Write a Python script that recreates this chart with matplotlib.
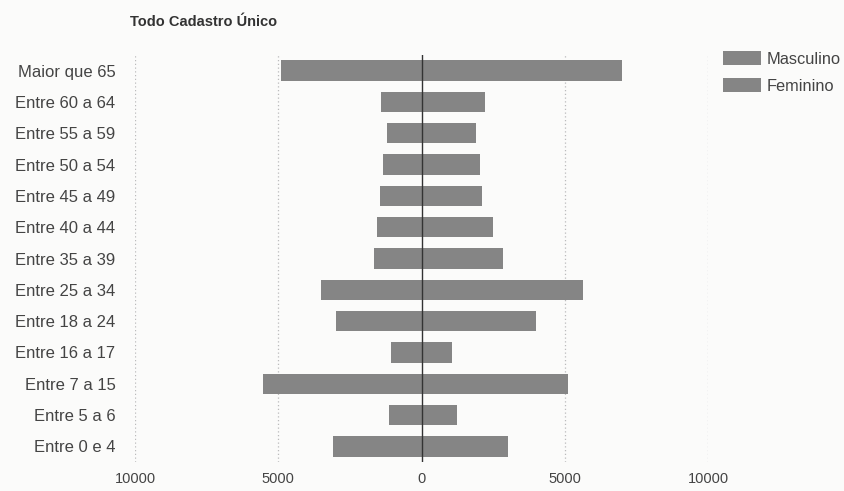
import numpy as np
import matplotlib.pyplot as plt
from matplotlib.ticker import FuncFormatter

faixas = ['Entre 0 e 4', 'Entre 5 a 6', 'Entre 7 a 15', 'Entre 16 a 17',
          'Entre 18 a 24', 'Entre 25 a 34', 'Entre 35 a 39', 'Entre 40 a 44',
          'Entre 45 a 49', 'Entre 50 a 54', 'Entre 55 a 59', 'Entre 60 a 64',
          'Maior que 65']
masculino = [3100, 1150, 5550, 1050, 3000, 3500, 1650, 1550, 1450, 1350, 1200, 1400, 4900]
feminino = [3000, 1250, 5100, 1050, 4000, 5650, 2850, 2500, 2100, 2050, 1900, 2200, 7000]
ticks = [-10000, -5000, 0, 5000, 10000]

cor = '#858585'
texto = '#444444'
plt.rcParams['font.family'] = ['Liberation Sans', 'DejaVu Sans']

fig = plt.figure(figsize=(8.44, 4.91), dpi=100)
fig.patch.set_facecolor('#fbfbfa')
ax = fig.add_axes([0.16, 0.059, 0.679, 0.829])
ax.set_facecolor('#fbfbfa')

y = np.arange(len(faixas))
ax.barh(y, -np.array(masculino), height=0.65, color=cor, label='Masculino')
ax.barh(y, feminino, height=0.65, color=cor, label='Feminino')

ax.set_xlim(-10000, 10000)
ax.set_ylim(-0.5, len(faixas) - 0.5)
ax.set_yticks(y)
ax.set_yticklabels(faixas, fontsize=12, color=texto)
ax.set_xticks(ticks)
ax.xaxis.set_major_formatter(FuncFormatter(lambda v, p: f'{abs(int(v))}'))
ax.tick_params(axis='x', length=0, labelsize=10.5, labelcolor=texto, pad=7)
ax.tick_params(axis='y', length=0, pad=14)

for t in ticks:
    if t != 0:
        ax.axvline(t, color='#bbbbbb', linestyle=(0, (1, 2)), linewidth=0.9, zorder=0)
ax.axvline(0, color='#333333', linewidth=1.0, zorder=3)

for s in ax.spines.values():
    s.set_visible(False)

fig.text(0.154, 0.955, 'Todo Cadastro Único', fontsize=10.5, fontweight='bold',
         color='#333333', va='center')
fig.legend(loc='upper left', bbox_to_anchor=(0.839, 0.926), frameon=False,
           fontsize=11.8, handlelength=2.3, handleheight=0.95, labelspacing=0.7,
           handletextpad=0.4, labelcolor=texto)

fig.savefig('out.png', dpi=100, facecolor=fig.get_facecolor())
